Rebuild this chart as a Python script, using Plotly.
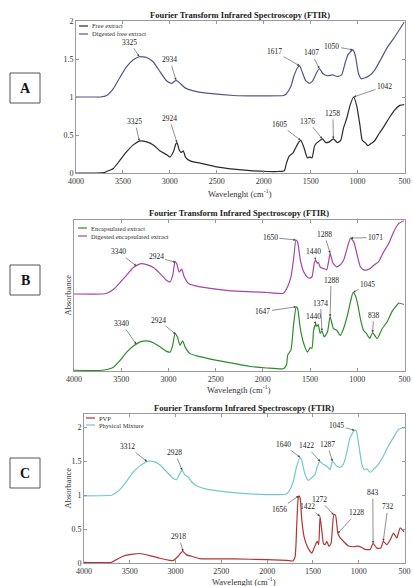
import numpy as np
import plotly.graph_objects as go

# ---------------- DATA ----------------
# Panel A
free_w = [4000, 3800, 3700, 3673, 3602, 3531, 3460, 3389, 3325, 3247, 3176, 3104, 3033, 3000, 2962, 2937, 2924,
          2902, 2881, 2856, 2834, 2785, 2678, 2500, 2323, 2145, 1967, 1843, 1780, 1760, 1730, 1690, 1660, 1630,
          1605, 1570, 1535, 1510, 1485, 1460, 1440, 1410, 1376, 1340, 1300, 1258, 1215, 1180, 1150, 1115, 1080,
          1042, 1010, 975, 950, 920, 890, 855, 820, 770, 720, 665, 610, 550, 500]
free_v = [0.0, 0.0, 0.005, 0.02, 0.06, 0.17, 0.28, 0.37, 0.42, 0.41, 0.37, 0.29, 0.24, 0.21, 0.28, 0.38, 0.40,
          0.31, 0.27, 0.29, 0.21, 0.16, 0.13, 0.08, 0.05, 0.03, 0.02, 0.02, 0.03, 0.12, 0.22, 0.26, 0.33, 0.40,
          0.43, 0.33, 0.20, 0.21, 0.20, 0.35, 0.39, 0.42, 0.45, 0.40, 0.41, 0.45, 0.40, 0.43, 0.59, 0.72, 0.89,
          1.0, 0.89, 0.63, 0.43, 0.40, 0.36, 0.39, 0.42, 0.52, 0.61, 0.72, 0.82, 0.89, 0.90]
dfree_w = [4000, 3800, 3744, 3673, 3602, 3531, 3460, 3389, 3325, 3247, 3176, 3104, 3033, 2980, 2934, 2891, 2838,
           2749, 2607, 2323, 1967, 1790, 1760, 1710, 1680, 1640, 1617, 1590, 1555, 1515, 1480, 1440, 1407, 1370,
           1320, 1265, 1215, 1170, 1130, 1100, 1050, 1025, 990, 960, 925, 875, 820, 750, 685, 610, 500]
dfree_v = [1.0, 1.0, 1.0, 1.02, 1.11, 1.26, 1.40, 1.49, 1.53, 1.52, 1.46, 1.33, 1.21, 1.18, 1.22, 1.18, 1.12,
           1.08, 1.05, 1.02, 1.015, 1.02, 1.04, 1.14, 1.27, 1.385, 1.41, 1.33, 1.22, 1.18, 1.21, 1.31, 1.375, 1.31,
           1.28, 1.29, 1.27, 1.29, 1.46, 1.56, 1.62, 1.55, 1.31, 1.24, 1.25, 1.28, 1.35, 1.5, 1.65, 1.78, 1.99]

# Panel B
enc_w = [4000, 3700, 3583, 3512, 3442, 3371, 3300, 3230, 3159, 3089, 3018, 2983, 2955, 2930, 2905, 2877, 2849,
         2824, 2771, 2665, 2488, 2311, 2135, 1958, 1782, 1750, 1737, 1702, 1675, 1647, 1632, 1604, 1569, 1527,
         1499, 1480, 1462, 1440, 1428, 1414, 1393, 1374, 1350, 1315, 1288, 1252, 1217, 1181, 1146, 1104, 1068,
         1045, 1020, 995, 965, 935, 905, 868, 838, 790, 737, 684, 631, 596, 560, 507]
enc_v = [0.01, 0.01, 0.05, 0.14, 0.25, 0.33, 0.385, 0.40, 0.375, 0.32, 0.26, 0.25, 0.34, 0.50, 0.45, 0.34, 0.40,
         0.32, 0.23, 0.19, 0.14, 0.10, 0.06, 0.04, 0.03, 0.08, 0.21, 0.28, 0.61, 0.85, 0.83, 0.565, 0.37, 0.25,
         0.31, 0.30, 0.54, 0.62, 0.59, 0.615, 0.50, 0.53, 0.45, 0.52, 0.72, 0.56, 0.54, 0.47, 0.56, 0.74, 0.94,
         1.04, 1.00, 0.88, 0.68, 0.54, 0.50, 0.43, 0.51, 0.43, 0.56, 0.65, 0.79, 0.85, 0.90, 0.88]
denc_w = [4000, 3700, 3654, 3583, 3513, 3442, 3371, 3301, 3230, 3159, 3089, 3018, 2983, 2954, 2930, 2912, 2887,
          2859, 2834, 2788, 2665, 2312, 1958, 1782, 1737, 1702, 1674, 1650, 1632, 1603, 1568, 1526, 1497, 1479,
          1455, 1440, 1425, 1412, 1390, 1360, 1325, 1300, 1288, 1258, 1220, 1186, 1144, 1108, 1071, 1037, 1002,
          967, 932, 896, 861, 826, 773, 720, 667, 614, 560, 507]
denc_v = [1.02, 1.02, 1.03, 1.08, 1.17, 1.27, 1.37, 1.42, 1.41, 1.37, 1.29, 1.20, 1.18, 1.27, 1.45, 1.42, 1.31,
          1.35, 1.25, 1.16, 1.115, 1.06, 1.04, 1.03, 1.12, 1.25, 1.49, 1.735, 1.71, 1.47, 1.315, 1.24, 1.23, 1.25,
          1.43, 1.47, 1.43, 1.44, 1.37, 1.36, 1.34, 1.48, 1.56, 1.43, 1.38, 1.40, 1.47, 1.625, 1.76, 1.71, 1.54,
          1.38, 1.34, 1.34, 1.36, 1.40, 1.45, 1.58, 1.69, 1.845, 1.955, 1.99]

# Panel C
pvp_w = [4000, 3700, 3646, 3573, 3464, 3391, 3282, 3172, 3063, 3027, 2972, 2935, 2918, 2881, 2826, 2735, 2370,
         2006, 1787, 1720, 1695, 1677, 1665, 1656, 1640, 1622, 1597, 1560, 1513, 1488, 1466, 1451, 1437, 1422,
         1400, 1386, 1367, 1349, 1324, 1302, 1272, 1254, 1228, 1203, 1167, 1112, 1057, 1003, 966, 930, 875, 843,
         802, 758, 732, 693, 657, 620, 584, 547, 511, 500]
pvp_v = [0.01, 0.01, 0.05, 0.10, 0.13, 0.14, 0.11, 0.07, 0.04, 0.035, 0.10, 0.16, 0.17, 0.12, 0.10, 0.065, 0.06,
         0.05, 0.04, 0.03, 0.09, 0.55, 0.90, 0.99, 0.96, 0.64, 0.39, 0.24, 0.145, 0.22, 0.29, 0.32, 0.27, 0.69,
         0.44, 0.29, 0.27, 0.32, 0.245, 0.29, 0.71, 0.71, 0.44, 0.37, 0.32, 0.25, 0.24, 0.25, 0.23, 0.20, 0.20, 0.29,
         0.22, 0.22, 0.32, 0.27, 0.34, 0.44, 0.37, 0.52, 0.47, 0.46]
mix_w = [4000, 3700, 3683, 3610, 3537, 3464, 3391, 3312, 3245, 3172, 3100, 3027, 2990, 2954, 2928, 2899, 2863,
         2826, 2771, 2662, 2370, 2006, 1790, 1750, 1713, 1677, 1640, 1622, 1586, 1549, 1513, 1476, 1451, 1422,
         1393, 1349, 1312, 1287, 1247, 1203, 1167, 1130, 1094, 1045, 1028, 1003, 966, 941, 912, 875, 839, 784,
         730, 675, 620, 566, 511, 500]
mix_v = [0.99, 1.0, 1.01, 1.08, 1.20, 1.34, 1.43, 1.50, 1.50, 1.45, 1.35, 1.25, 1.23, 1.32, 1.37, 1.30, 1.27,
         1.20, 1.14, 1.09, 1.04, 1.01, 1.02, 1.085, 1.21, 1.43, 1.56, 1.51, 1.31, 1.22, 1.26, 1.31, 1.43, 1.50,
         1.46, 1.43, 1.38, 1.50, 1.44, 1.41, 1.46, 1.63, 1.855, 1.96, 1.955, 1.78, 1.46, 1.38, 1.39, 1.34, 1.38,
         1.46, 1.58, 1.73, 1.855, 1.97, 2.0, 1.99]

x_ticks = [4000, 3500, 3000, 2500, 2000, 1500, 1000, 500]
y_ticks = [0, 0.5, 1, 1.5, 2]
y_tick_text = ["0", "0.5", "1", "1.5", "2"]

# ---------------- LAYOUT HELPERS ----------------
W, H = 413, 586
FONT = "Liberation Serif, Times New Roman, serif"
AXC = "#9a9a9a"


def px(x):
    return x / W


def py(y):
    return 1 - y / H


panels = {
    "A": dict(x0=76, x1=404.5, y0=21, y1=173, yr=[0, 2]),
    "B": dict(x0=74, x1=404.5, y0=220, y1=371, yr=[0, 2]),
    "C": dict(x0=84, x1=404.5, y0=414, y1=563, yr=[0, 2.2]),
}

fig = go.Figure()

series = [
    ("A", "Free extract", free_w, free_v, "#2b2b2b"),
    ("A", "Digested free extract", dfree_w, dfree_v, "#55558c"),
    ("B", "Encapsulated extract", enc_w, enc_v, "#2f8a2f"),
    ("B", "Digested encapsulated extract", denc_w, denc_v, "#a545a8"),
    ("C", "PVP", pvp_w, pvp_v, "#b43434"),
    ("C", "Physical Mixture", mix_w, mix_v, "#74c7cf"),
]
axmap = {"A": ("x", "y"), "B": ("x2", "y2"), "C": ("x3", "y3")}

for pn, name, w, v, col in series:
    xa, ya = axmap[pn]
    fig.add_trace(go.Scatter(x=w, y=v, mode="lines", name=name, xaxis=xa, yaxis=ya,
                             line=dict(color=col, width=1.2, shape="spline", smoothing=0.5),
                             showlegend=False, hoverinfo="skip"))

layout_axes = {}
for i, pn in enumerate(["A", "B", "C"]):
    p = panels[pn]
    sfx = "" if i == 0 else str(i + 1)
    layout_axes["xaxis" + sfx] = dict(
        domain=[px(p["x0"]), px(p["x1"])], range=[4000, 500], anchor="y" + sfx,
        tickvals=x_ticks, ticktext=[str(t) for t in x_ticks], ticks="inside", ticklen=3,
        tickcolor=AXC, showline=True, mirror="ticks", linecolor=AXC, linewidth=0.8,
        showgrid=False, zeroline=False, automargin=False,
        tickfont=dict(family=FONT, size=8, color="#333"))
    ydict = dict(domain=[py(p["y1"]), py(p["y0"])], range=p["yr"], anchor="x" + sfx,
                 showline=True, mirror=True, linecolor=AXC, linewidth=0.8, automargin=False,
                 showgrid=False, zeroline=False, tickfont=dict(family=FONT, size=8, color="#333"))
    if pn == "B":
        ydict.update(showticklabels=False, ticks="")
    else:
        ydict.update(tickvals=y_ticks, ticktext=y_tick_text, ticks="inside", ticklen=3,
                     tickcolor=AXC, mirror="ticks")
    layout_axes["yaxis" + sfx] = ydict

annotations = []
shapes = []


def ptext(text, x, y, size, xanchor="center", angle=0, color="#333"):
    return dict(text=text, x=px(x), y=py(y), xref="paper", yref="paper", showarrow=False,
                xanchor=xanchor, yanchor="middle", textangle=angle,
                font=dict(family=FONT, size=size, color=color))


# titles, axis titles, panel letters
title_y = {"A": 15, "B": 213, "C": 408}
xt = {"A": ("Wavelenght (cm<sup>-1</sup>)", 193), "B": ("Wavelength (cm<sup>-1</sup>)", 389),
      "C": ("Wavelenght (cm<sup>-1</sup>)", 581)}
box_y = {"A": 88, "B": 280, "C": 473}
for pn in ["A", "B", "C"]:
    p = panels[pn]
    cx = (p["x0"] + p["x1"]) / 2
    annotations.append(ptext("<b>Fourier Transform Infrared Spectroscopy (FTIR)</b>", cx, title_y[pn],
                             8.5, color="#222"))
    annotations.append(ptext(xt[pn][0], cx, xt[pn][1], 8.5))
    if pn in ("B", "C"):
        annotations.append(ptext("Absorbance", 67, (p["y0"] + p["y1"]) / 2, 8.5, angle=-90))
    by = box_y[pn]
    shapes.append(dict(type="rect", xref="paper", yref="paper", x0=px(10), x1=px(40),
                       y0=py(by + 15), y1=py(by - 15), line=dict(color="#555", width=1)))
    annotations.append(ptext("<b>%s</b>" % pn, 25, by, 14, color="#111"))

# custom legends
legend_rows = {
    "A": [(79, 88, 90, 26, "Free extract", "#2b2b2b"), (79, 88, 90, 34, "Digested free extract", "#55558c")],
    "B": [(78, 87, 89, 228, "Encapsulated extract", "#2f8a2f"),
          (78, 87, 89, 236, "Digested encapsulated extract", "#a545a8")],
    "C": [(86, 95, 97, 418, "PVP", "#b43434"), (86, 95, 97, 425, "Physical Mixture", "#74c7cf")],
}
for pn, rows in legend_rows.items():
    for lx0, lx1, tx, ty, name, col in rows:
        shapes.append(dict(type="line", xref="paper", yref="paper", x0=px(lx0), x1=px(lx1),
                           y0=py(ty), y1=py(ty), line=dict(color=col, width=1.2)))
        annotations.append(ptext(name, tx, ty, 6.5, xanchor="left"))


def interp(wn, w, v):
    return float(np.interp(wn, w[::-1], v[::-1]))


# peak labels: (panel, peak wavenumber, series w, series v, text wn, text value)
peak_labels = [
    ("A", 3325, dfree_w, dfree_v, 3426, 1.72),
    ("A", 2934, dfree_w, dfree_v, 3000, 1.49),
    ("A", 1617, dfree_w, dfree_v, 1883, 1.60),
    ("A", 1407, dfree_w, dfree_v, 1493, 1.58),
    ("A", 1050, dfree_w, dfree_v, 1273, 1.67),
    ("A", 1042, free_w, free_v, 713, 1.14),
    ("A", 3325, free_w, free_v, 3372, 0.675),
    ("A", 2924, free_w, free_v, 3007, 0.72),
    ("A", 1605, free_w, free_v, 1830, 0.64),
    ("A", 1376, free_w, free_v, 1529, 0.68),
    ("A", 1258, free_w, free_v, 1263, 0.785),
    ("B", 3340, denc_w, denc_v, 3533, 1.58),
    ("B", 2924, denc_w, denc_v, 3130, 1.51),
    ("B", 1650, denc_w, denc_v, 1921, 1.77),
    ("B", 1440, denc_w, denc_v, 1462, 1.58),
    ("B", 1288, denc_w, denc_v, 1349, 1.81),
    ("B", 1071, denc_w, denc_v, 808, 1.77),
    ("B", 3340, enc_w, enc_v, 3494, 0.63),
    ("B", 2924, enc_w, enc_v, 3106, 0.675),
    ("B", 1647, enc_w, enc_v, 1999, 0.785),
    ("B", 1440, enc_w, enc_v, 1469, 0.72),
    ("B", 1374, enc_w, enc_v, 1391, 0.90),
    ("B", 1288, enc_w, enc_v, 1278, 1.205),
    ("B", 1045, enc_w, enc_v, 889, 1.15),
    ("B", 838, enc_w, enc_v, 826, 0.74),
    ("C", 3312, mix_w, mix_v, 3522, 1.72),
    ("C", 2928, mix_w, mix_v, 3008, 1.63),
    ("C", 1640, mix_w, mix_v, 1823, 1.75),
    ("C", 1422, mix_w, mix_v, 1575, 1.73),
    ("C", 1287, mix_w, mix_v, 1342, 1.75),
    ("C", 1045, mix_w, mix_v, 1240, 2.03),
    ("C", 1656, pvp_w, pvp_v, 1867, 0.79),
    ("C", 1422, pvp_w, pvp_v, 1561, 0.83),
    ("C", 1272, pvp_w, pvp_v, 1430, 0.94),
    ("C", 1228, pvp_w, pvp_v, 1021, 0.74),
    ("C", 843, pvp_w, pvp_v, 846, 1.04),
    ("C", 732, pvp_w, pvp_v, 682, 0.83),
    ("C", 2918, pvp_w, pvp_v, 2963, 0.39),
]
for pn, wn, w, v, tw, tv in peak_labels:
    xa, ya = axmap[pn]
    annotations.append(dict(text=str(wn), x=wn, y=interp(wn, w, v), xref=xa, yref=ya,
                            ax=tw, ay=tv, axref=xa, ayref=ya, showarrow=True,
                            xanchor="center", yanchor="middle",
                            arrowhead=2, arrowsize=0.8, arrowwidth=0.6, arrowcolor="#444",
                            standoff=0, font=dict(family=FONT, size=7.5, color="#222")))

fig.update_layout(width=W, height=H, margin=dict(l=0, r=0, t=0, b=0),
                  paper_bgcolor="white", plot_bgcolor="white",
                  annotations=annotations, shapes=shapes, showlegend=False, **layout_axes)

fig.write_html("out.html", config={"displayModeBar": False},
               post_script="document.body.style.margin='0';document.body.style.overflow='hidden';")
